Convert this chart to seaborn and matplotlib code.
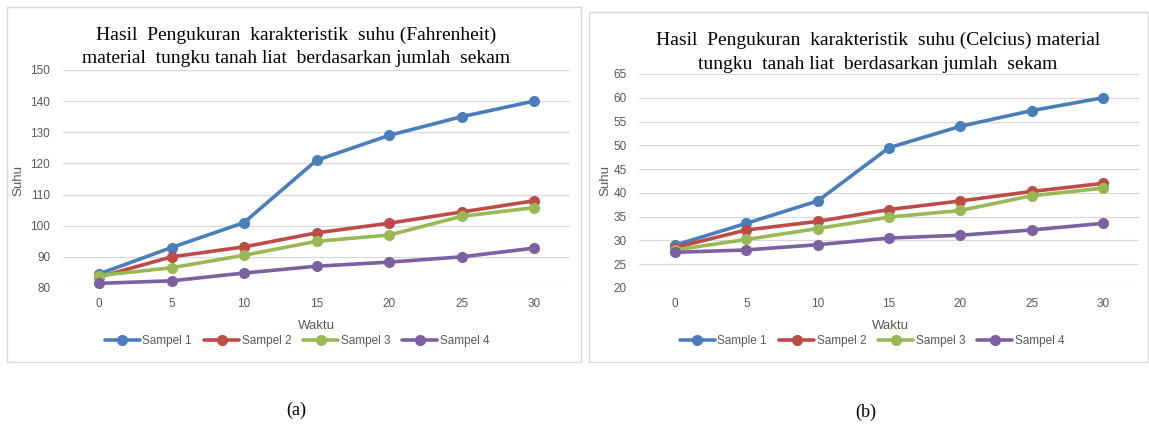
import matplotlib
matplotlib.use("Agg")
import matplotlib.pyplot as plt
from matplotlib.patches import Rectangle
import seaborn as sns
import pandas as pd

# Measurement times (minutes)
waktu = [0, 5, 10, 15, 20, 25, 30]

# Temperature in Fahrenheit
f_sampel1 = [84.5, 93, 101, 121, 129, 135, 140]
f_sampel2 = [83.5, 90, 93.2, 97.7, 100.8, 104.4, 108]
f_sampel3 = [84, 86.5, 90.5, 95, 97, 103, 105.8]
f_sampel4 = [81.5, 82.3, 84.8, 87, 88.3, 90, 92.8]

# Temperature in Celsius
c_sampel1 = [29, 33.6, 38.3, 49.5, 54, 57.3, 60]
c_sampel2 = [28.5, 32.2, 34, 36.5, 38.3, 40.3, 42]
c_sampel3 = [28, 30.2, 32.5, 34.9, 36.3, 39.4, 41]
c_sampel4 = [27.5, 28, 29.1, 30.5, 31.1, 32.2, 33.6]

labels_f = ["Sampel 1", "Sampel 2", "Sampel 3", "Sampel 4"]
labels_c = ["Sample 1", "Sampel 2", "Sampel 3", "Sampel 4"]
colors = ["#4A7EBB", "#BE4B48", "#98B954", "#7D60A0"]

title_f = "Hasil  Pengukuran  karakteristik  suhu (Fahrenheit)\nmaterial  tungku tanah liat  berdasarkan jumlah  sekam"
title_c = "Hasil  Pengukuran  karakteristik  suhu (Celcius) material\ntungku  tanah liat  berdasarkan jumlah  sekam"


def long_form(series, labels):
    rows = []
    for lab, vals in zip(labels, series):
        for t, v in zip(waktu, vals):
            rows.append({"Waktu": t, "Suhu": v, "Seri": lab})
    return pd.DataFrame(rows)


sns.set_theme(style="white")
plt.rcParams["font.family"] = ["Liberation Sans", "DejaVu Sans"]

W, H = 1149, 425
fig = plt.figure(figsize=(W / 100, H / 100), dpi=100)
fig.patch.set_facecolor("white")


def px_axes(x0, y_top, x1, y_bot):
    return fig.add_axes([x0 / W, 1 - y_bot / H, (x1 - x0) / W, (y_bot - y_top) / H])


def frame(x0, y0, x1, y1):
    fig.patches.append(Rectangle((x0 / W, 1 - y1 / H), (x1 - x0) / W, (y1 - y0) / H,
                                 transform=fig.transFigure, fill=False,
                                 edgecolor="#D9D9D9", linewidth=1.0))


def panel(ax, df, labels, ylim, yticks, title, title_xy, leg_xy, xlab_xy, ylab_xy):
    pal = dict(zip(labels, colors))
    sns.lineplot(data=df, x="Waktu", y="Suhu", hue="Seri", hue_order=labels,
                 palette=pal, marker="o", markersize=8, markeredgewidth=0,
                 linewidth=2.6, ax=ax, legend=True)
    ax.set_xlim(-2.5, 32.5)
    ax.set_ylim(*ylim)
    ax.set_xticks(waktu)
    ax.set_yticks(yticks)
    ax.grid(axis="y", color="#D9D9D9", linewidth=0.9)
    ax.set_axisbelow(True)
    for s in ax.spines.values():
        s.set_visible(False)
    ax.tick_params(axis="both", length=0, labelsize=8.5, colors="#595959", pad=7)
    ax.tick_params(axis="y", pad=9)
    ax.set_xlabel("")
    ax.set_ylabel("")
    handles, _ = ax.get_legend_handles_labels()
    ax.get_legend().remove()
    fig.legend(handles, labels, loc="center", bbox_to_anchor=(leg_xy[0] / W, 1 - leg_xy[1] / H),
               ncol=4, frameon=False, fontsize=8.5, handlelength=3.0, columnspacing=1.0,
               handletextpad=0.2, labelcolor="#595959")
    fig.text(xlab_xy[0] / W, 1 - xlab_xy[1] / H, "Waktu", ha="center", va="center",
             fontsize=9.5, color="#595959")
    fig.text(ylab_xy[0] / W, 1 - ylab_xy[1] / H, "Suhu", ha="center", va="center",
             fontsize=9.5, color="#595959", rotation=90)
    fig.text(title_xy[0] / W, 1 - title_xy[1] / H, title, ha="center", va="center",
             fontsize=14, family="Liberation Serif", color="black", linespacing=1.5)


frame(7, 7, 581, 362)
frame(589, 12, 1148, 362)

ax1 = px_axes(62.75, 70, 570.25, 288)
panel(ax1, long_form([f_sampel1, f_sampel2, f_sampel3, f_sampel4], labels_f), labels_f,
      (80, 150), list(range(80, 151, 10)), title_f, (296, 47), (297, 341), (316, 326), (18, 180))

ax2 = px_axes(639.3, 74, 1138.7, 288)
panel(ax2, long_form([c_sampel1, c_sampel2, c_sampel3, c_sampel4], labels_c), labels_c,
      (20, 65), list(range(20, 66, 5)), title_c, (878, 52.5), (872, 341), (890, 326), (605, 180))

fig.text(296 / W, 1 - 410 / H, "(a)", ha="center", va="center", fontsize=13,
         family="Liberation Serif", color="black")
fig.text(866 / W, 1 - 412 / H, "(b)", ha="center", va="center", fontsize=13,
         family="Liberation Serif", color="black")

fig.savefig("out.png", dpi=100, facecolor="white")
